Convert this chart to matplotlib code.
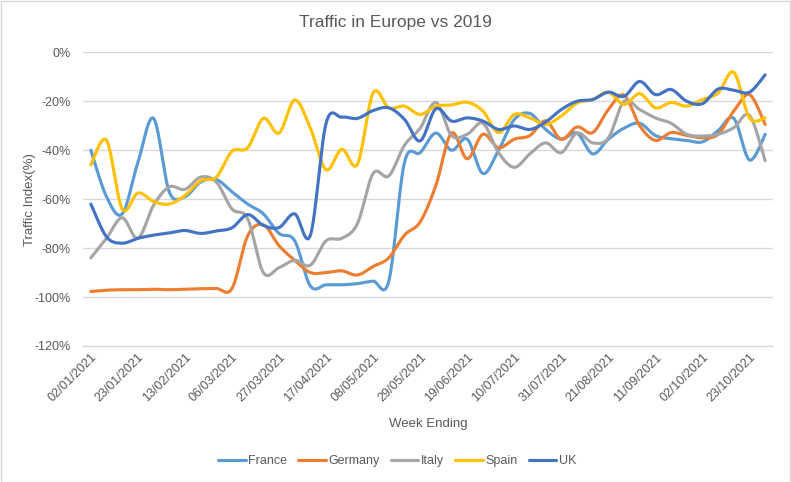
import numpy as np
import pandas as pd
import matplotlib
matplotlib.use("Agg")
import matplotlib.pyplot as plt
from matplotlib.patches import Rectangle

# ---------------- data ----------------
weeks = pd.date_range("2021-01-02", periods=44, freq="7D")
week_labels = [d.strftime("%d/%m/%Y") for d in weeks]

france = [-40, -59, -66, -45, -27, -57, -59, -53, -52, -57, -62, -66, -74, -77,
          -95.5, -95, -95, -94.5, -93.5, -93.5, -45, -41, -33, -40, -35.5, -49.5,
          -40, -27.5, -25, -31.5, -35.5, -33, -41.5, -35.5, -31, -29, -34, -35.3,
          -36, -36.6, -32, -27, -44, -33.5]
germany = [-97.7, -97.2, -97, -97, -96.8, -97, -96.8, -96.6, -96.5, -96.5, -75,
           -70.5, -79, -85, -90, -90, -89.3, -91, -87.5, -84, -74.7, -69.3, -54.4,
           -33, -43.5, -33.5, -39, -35.5, -34, -28, -35.5, -30.5, -32.8, -23.4,
           -17.5, -30, -36, -32.8, -34, -34.9, -33.5, -24, -17.3, -29.5]
italy = [-84, -76, -67.6, -76, -62.5, -55, -56, -51, -53, -64, -68, -90, -88, -85,
         -87, -77, -76, -70, -49.5, -50.5, -38, -31, -20.5, -34, -33.5, -29, -41,
         -47, -41.5, -37, -41, -33, -37, -35, -20, -23.4, -26.8, -29, -33.5, -34.2,
         -33.5, -30.8, -25.8, -44.3]
spain = [-46, -36, -64, -57.5, -61, -62, -58.5, -52.5, -51, -40.5, -39, -27, -33,
         -19.5, -31, -48, -39.6, -45.7, -16.6, -22.7, -22, -25.4, -22, -21.5, -20.4,
         -24, -32.8, -25.4, -26.8, -29.5, -26, -20.7, -19.3, -16.3, -21.3, -16.9,
         -22.7, -20.5, -22, -19.3, -16.6, -8.2, -26.8, -26.8]
uk = [-62, -75.4, -78, -76, -74.7, -73.8, -72.8, -74, -73, -71.7, -66.3, -70.7,
      -71.6, -66, -74.7, -29, -26.5, -27, -23.8, -22.7, -27.4, -36.2, -23.1, -28.1,
      -26.8, -28.1, -31.5, -30.1, -31.5, -28.5, -23.4, -20, -19.3, -16.3, -18,
      -11.9, -17.3, -15.2, -20, -21, -15, -15.5, -16.3, -9.2]

series_names = ["France", "Germany", "Italy", "Spain", "UK"]
series_values = [france, germany, italy, spain, uk]
series_colors = ["#5B9BD5", "#ED7D31", "#A5A5A5", "#FFC000", "#4472C4"]

y_ticks = [0, -20, -40, -60, -80, -100, -120]


def smooth(xv, yv, n=24):
    """Excel-like smoothed line (Catmull-Rom as cubic Bezier)."""
    xv = np.asarray(xv, float)
    yv = np.asarray(yv, float)
    m = len(xv)
    xs, ys = [], []
    t = np.linspace(0, 1, n, endpoint=False)
    for i in range(m - 1):
        i0 = max(i - 1, 0)
        i3 = min(i + 2, m - 1)
        p0 = np.array([xv[i0], yv[i0]])
        p1 = np.array([xv[i], yv[i]])
        p2 = np.array([xv[i + 1], yv[i + 1]])
        p3 = np.array([xv[i3], yv[i3]])
        b1 = p1 + (p2 - p0) / 6.0
        b2 = p2 - (p3 - p1) / 6.0
        pts = ((1 - t) ** 3)[:, None] * p1 + (3 * (1 - t) ** 2 * t)[:, None] * b1 \
            + (3 * (1 - t) * t ** 2)[:, None] * b2 + (t ** 3)[:, None] * p2
        xs.append(pts[:, 0])
        ys.append(pts[:, 1])
    xs.append([xv[-1]])
    ys.append([yv[-1]])
    return np.concatenate(xs), np.concatenate(ys)


plt.rcParams["font.family"] = ["Liberation Sans", "DejaVu Sans"]
text_color = "#595959"

fig = plt.figure(figsize=(7.91, 4.82), dpi=100)
ax = fig.add_axes([83 / 791, 1 - 346 / 482, (773 - 83) / 791, (346 - 52.3) / 482])

x = np.arange(len(week_labels))
for name, vals, col in zip(series_names, series_values, series_colors):
    sx, sy = smooth(x, vals)
    ax.plot(sx, sy, color=col, lw=2.25, label=name, solid_capstyle="round")

ax.set_xlim(-0.5, len(week_labels) - 0.5)
ax.set_ylim(-120, 0)
ax.set_yticks(y_ticks)
ax.set_yticklabels([f"{v}%" for v in y_ticks])
ax.set_xticks(x[::3])
ax.set_xticklabels(week_labels[::3], rotation=45, ha="right", va="top",
                   rotation_mode="anchor")
ax.tick_params(axis="both", length=0, colors=text_color, labelsize=9)
ax.tick_params(axis="x", pad=4)
ax.tick_params(axis="y", pad=9)
ax.grid(axis="y", color="#D9D9D9", lw=1)
ax.set_axisbelow(True)
for s in ["top", "right", "left"]:
    ax.spines[s].set_visible(False)
ax.spines["bottom"].set_color("#D9D9D9")
ax.spines["bottom"].set_linewidth(1)

fig.text(30 / 791, 1 - 200 / 482, "Traffic Index(%)", color=text_color,
         fontsize=9.5, rotation=90, ha="center", va="center")
fig.text(428 / 791, 1 - 424 / 482, "Week Ending", color=text_color,
         fontsize=9.5, ha="center", va="center")
fig.text(395 / 791, 1 - 22 / 482, "Traffic in Europe vs 2019", color=text_color,
         fontsize=12.5, ha="center", va="center")

fig.legend(loc="center", bbox_to_anchor=(397 / 791, 1 - 461 / 482), ncol=5,
           frameon=False, fontsize=9, handlelength=2.2, columnspacing=0.9,
           handletextpad=0.2, labelcolor=text_color)

fig.patches.append(Rectangle((0.5 / 791, 0.5 / 482), 1 - 1.5 / 791, 1 - 1.5 / 482,
                             transform=fig.transFigure, fill=False,
                             edgecolor="#D9D9D9", lw=1))

fig.savefig("out.png", dpi=100)
